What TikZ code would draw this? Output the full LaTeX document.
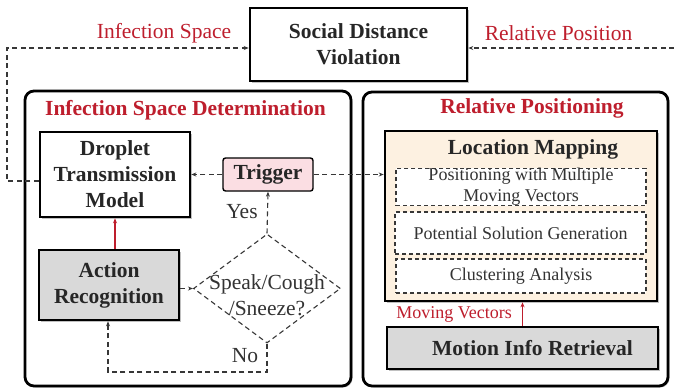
\documentclass[tikz,border=0pt]{standalone}
\usepackage{fontspec}
\setmainfont{Liberation Serif}
\usetikzlibrary{shapes.geometric,arrows.meta,shadows}
\definecolor{myred}{RGB}{190,30,45}
\definecolor{pinkfill}{RGB}{251,222,227}
\definecolor{creamfill}{RGB}{253,241,225}
\definecolor{grayfill}{RGB}{217,217,217}
\definecolor{dashgray}{RGB}{55,55,55}
\begin{document}
\begin{tikzpicture}[x = 1pt, y = -1pt,
    shadowed/.style = {drop shadow = {shadow xshift = 1.5pt, shadow yshift = -1.5pt, opacity = 0.35, fill = black!70}},
    block/.style = {rectangle, draw, line width = 2.6pt, fill = white, shadowed, align = center, inner sep = 0pt,
                    font = \fontsize{21.5}{26}\selectfont\bfseries, text = black!85},
    panel/.style = {rectangle, draw, line width = 2.8pt, rounded corners = 9pt, fill = white, shadowed},
    trig/.style = {rectangle, draw, line width = 1.4pt, rounded corners = 2.5pt, fill = pinkfill, inner sep = 0pt,
                   font = \fontsize{21.5}{26}\selectfont\bfseries, text = black!85},
    dbox/.style = {rectangle, draw = dashgray, line width = 1.1pt, dash pattern = on 4pt off 3pt, fill = white,
                   inner sep = 0pt, align = center, font = \fontsize{18}{21}\selectfont, text = black!80},
    dec/.style = {diamond, draw = dashgray, line width = 1.1pt, dash pattern = on 5pt off 3.5pt, inner sep = 0pt},
    rtitle/.style = {font = \fontsize{21.5}{26}\selectfont\bfseries, text = myred},
    rlabel/.style = {font = \fontsize{21.5}{26}\selectfont, text = myred},
    txt/.style = {font = \fontsize{21.5}{26}\selectfont, text = black!80, align = center},
    dline/.style = {draw = dashgray, line width = 1.1pt, dash pattern = on 5pt off 3.5pt,
                    -{Stealth[length = 5pt, width = 4pt]}},
    rarrow/.style = {draw = myred, line width = 1.5pt, -{Stealth[length = 5pt, width = 4pt]}}]
  \useasboundingbox (0, 0) rectangle (674, 389);

  \node [block, minimum width = 217pt, minimum height = 73pt] (viol) at (358.5, 44.5) {Social Distance\\Violation};
  \node [rlabel, anchor = base] (infl) at (164, 38.3) {Infection Space};
  \node [rlabel, anchor = base] (rell) at (558.5, 40.7) {Relative Position};

  \node [panel, minimum width = 326pt, minimum height = 295pt] (isd) at (188, 238.5) {};
  \node [panel, minimum width = 305pt, minimum height = 294pt] (rp) at (515.5, 239) {};
  \node [rtitle] (isdt) at (185.5, 110) {Infection Space Determination};
  \node [rtitle] (rpt) at (532, 108) {Relative Positioning};

  \node [block, minimum width = 150pt, minimum height = 85pt] (droplet) at (115, 174.5) {Droplet\\Transmission\\Model};
  \node [trig, minimum width = 90pt, minimum height = 33pt] (trigger) at (268, 174.5) {Trigger};
  \node [block, fill = grayfill, minimum width = 140pt, minimum height = 70pt] (action) at (109, 285) {Action\\Recognition};
  \node [dec, minimum width = 147pt, minimum height = 109pt] (speak) at (267, 288.5) {};
  \node [txt] (speakt) at (267, 295) {Speak/Cough\\/Sneeze?};
  \node [txt] (yes) at (242, 212) {Yes};
  \node [txt] (no) at (245, 356) {No};

  \node [block, fill = creamfill, minimum width = 272pt, minimum height = 170pt] (locmap) at (521, 216) {};
  \node [font = \fontsize{21.5}{26}\selectfont\bfseries, text = black!85] (lmt) at (533, 149) {Location Mapping};
  \node [dbox, minimum width = 250pt, minimum height = 36pt] (pos) at (521, 187) {Positioning with Multiple\\Moving Vectors};
  \node [dbox, minimum width = 251pt, minimum height = 42pt] (gen) at (520.5, 233) {Potential Solution Generation};
  \node [dbox, minimum width = 250pt, minimum height = 34pt] (clu) at (521, 276) {Clustering Analysis};
  \node [block, fill = grayfill, minimum width = 271pt, minimum height = 42pt,
         label = {[xshift = 10pt, font = \fontsize{21.5}{26}\selectfont\bfseries, text = black!85]center:Motion Info Retrieval}]
         (motion) at (522.5, 348) {};
  \node [font = \fontsize{18}{21}\selectfont, text = myred] (mvl) at (454, 314) {Moving Vectors};

  \coordinate (lc) at (7, 181);
  \coordinate (lt) at (7, 48);
  \coordinate (rt) at (674, 48);
  \coordinate (lb) at (108, 372);

  \draw [dline] (droplet.west |- lc) -- (lc) -- (lt) -- (viol.west |- lt);
  \draw [dline] (rt) -- (viol.east |- rt);
  \draw [dline] (trigger.west) -- (droplet.east |- trigger.west);
  \draw [dline] (trigger.east) -- (locmap.west |- trigger.east);
  \draw [dline] (speak.north) -- (trigger.south);
  \draw [dline] (action.east |- speak.west) -- (speak.west);
  \draw [dline] (speak.south) |- (lb) -- (action.south -| lb);
  \draw [rarrow] (action.north -| droplet.south) -- (droplet.south);
  \draw [rarrow] (motion.north) -- (motion.north |- locmap.south);
\end{tikzpicture}
\end{document}
